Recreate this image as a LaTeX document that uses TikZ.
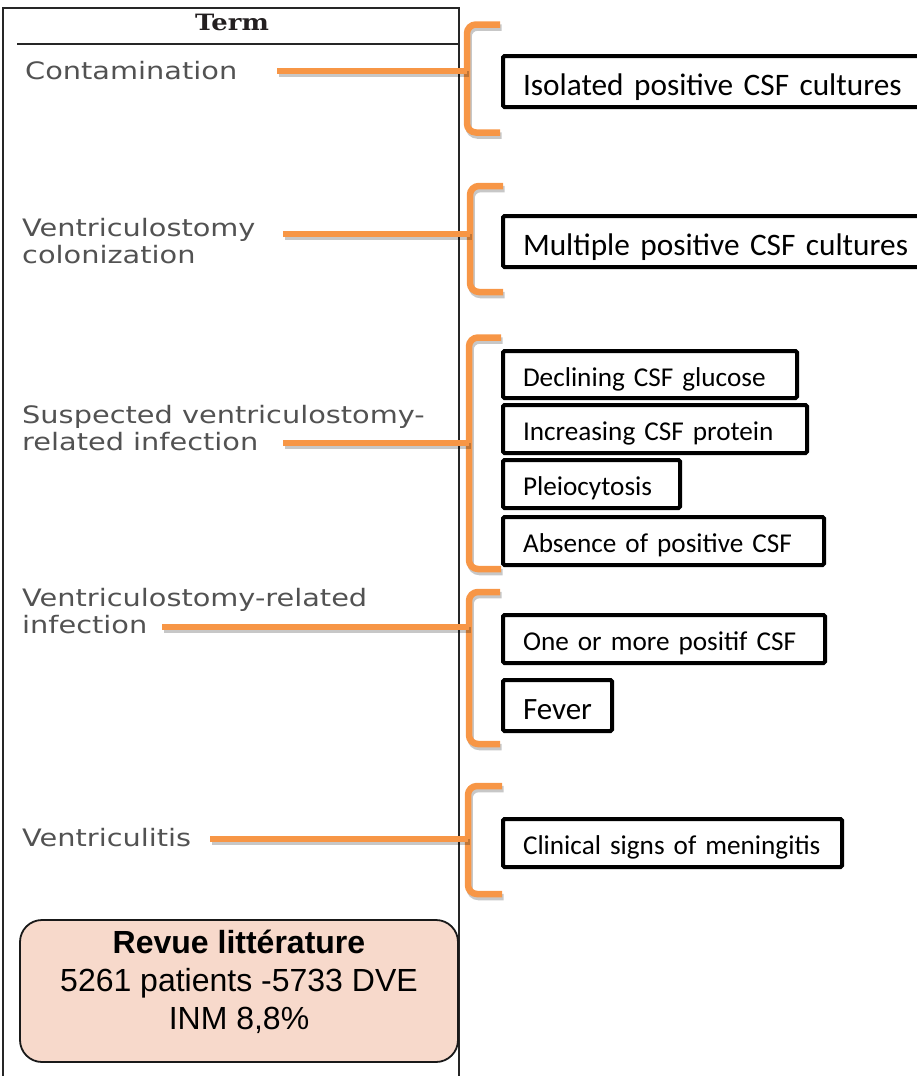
\documentclass[tikz,border=0pt]{standalone}
\usepackage{fontspec}
\setmainfont{Carlito}
\newfontfamily\termfont[FakeStretch=1.2]{DejaVu Sans}
\newfontfamily\headfont[FakeStretch=1.15]{DejaVu Serif}
\newfontfamily\arialfont{Liberation Sans}
\definecolor{orangeC}{RGB}{247,150,70}
\definecolor{termgray}{RGB}{82,82,82}
\definecolor{headgray}{RGB}{35,31,32}
\definecolor{peach}{RGB}{247,217,203}
\tikzset{
  orangeline/.style={draw=orangeC, line width=6.5pt,
    preaction={draw=black, opacity=0.22, line width=6.5pt,
      transform canvas={xshift=1.5pt,yshift=-3pt}}},
  brk/.style={orangeline, rounded corners=9pt},
  crit/.style={draw=black, line width=4pt, rounded corners=1.5pt, anchor=north west,
    inner xsep=20pt, inner ysep=0pt, align=left,
    font=\fontsize{27.2}{30}\selectfont, text height=23pt, text depth=0pt},
  critbig/.style={crit, font=\fontsize{31.3}{36}\selectfont, text height=27pt},
  termtext/.style={anchor=base west, inner sep=0pt, align=left, text=termgray,
    font=\termfont\fontsize{24}{26.5}\selectfont},
  frameline/.style={draw=black!85, line width=2pt},
}
\begin{document}
\begin{tikzpicture}[x=1pt,y=-1pt]
\useasboundingbox (0,0) rectangle (917,1076);
\clip (0,0) rectangle (917,1076);

% table frame
\draw[frameline] (3,1076) -- (3,7.5) -- (459,7.5) -- (459,1076);
\draw[frameline, line width=1.8pt] (17,44) -- (459,44);
\node[anchor=base, inner sep=0pt, text=headgray,
  font=\headfont\bfseries\fontsize{22.5}{24}\selectfont] (term) at (232,30) {Term};

% terms (base anchor = baseline of the last line)
\node[termtext] (t1) at (25,79) {Contamination};
\node[termtext] (t2) at (22,263) {Ventriculostomy\\colonization};
\node[termtext] (t3) at (22,450) {Suspected ventriculostomy-\\related infection};
\node[termtext] (t4) at (22,633) {Ventriculostomy-related\\infection};
\node[termtext] (t5) at (22,846) {Ventriculitis};

% brackets
\draw[brk] (500,24.5) -- (467,24.5) -- (467,132.5) -- (500,132.5);
\draw[brk] (503,186) -- (470,186) -- (470,292) -- (503,292);
\draw[brk] (501,337.5) -- (469,337.5) -- (469,569) -- (501,569);
\draw[brk] (500,592) -- (469,592) -- (469,744) -- (500,744);
\draw[brk] (502,786) -- (468,786) -- (468,894) -- (502,894);

% connector ends
\coordinate (s1) at (277,71);  \coordinate (m1) at (467,71);
\coordinate (s2) at (283,234); \coordinate (m2) at (470,234);
\coordinate (s3) at (283,443); \coordinate (m3) at (469,443);
\coordinate (s4) at (162,627); \coordinate (m4) at (469,627);
\coordinate (s5) at (210,839); \coordinate (m5) at (468,839);
\draw[orangeline] (s1) -- (m1);
\draw[orangeline] (s2) -- (m2);
\draw[orangeline] (s3) -- (m3);
\draw[orangeline] (s4) -- (m4);
\draw[orangeline] (s5) -- (m5);

% criteria boxes
\node[critbig, minimum width=434pt, minimum height=51pt, text width=394pt] (b1) at (501,54) {\mbox{Isolated positive CSF cultures}};
\node[critbig, minimum width=434pt, minimum height=51pt, text width=394pt] (b2) at (501,214) {\mbox{Multiple positive CSF cultures}};
\node[crit, minimum width=294pt, minimum height=47pt, text width=254pt] (b3) at (501,349) {\mbox{Declining CSF glucose}};
\node[crit, minimum width=304pt, minimum height=48pt, text width=264pt] (b4) at (501,403) {\mbox{Increasing CSF protein}};
\node[crit, minimum width=177pt, minimum height=48pt, text width=137pt] (b5) at (501,458) {\mbox{Pleiocytosis}};
\node[crit, minimum width=321pt, minimum height=48pt, text width=281pt] (b6) at (501,515) {\mbox{Absence of positive CSF}};
\node[crit, minimum width=322pt, minimum height=48pt, text width=282pt] (b7) at (501,613) {\mbox{One or more positif CSF}};
\node[critbig, font=\fontsize{31}{35}\selectfont, minimum width=109pt, minimum height=51pt, text width=69pt] (b8) at (501,678) {\mbox{Fever}};
\node[crit, minimum width=339pt, minimum height=48pt, text width=299pt] (b9) at (501,817) {\mbox{Clinical signs of meningitis}};

% literature box
\node[draw=black!90, line width=1.8pt, rounded corners=22pt, fill=peach,
  minimum width=438pt, minimum height=142pt, align=center, text depth=22pt,
  font=\arialfont\fontsize{32}{38}\selectfont] (lit) at (239,991)
  {\textbf{Revue littérature}\\5261 patients -5733 DVE\\INM 8,8\%};
\end{tikzpicture}
\end{document}
